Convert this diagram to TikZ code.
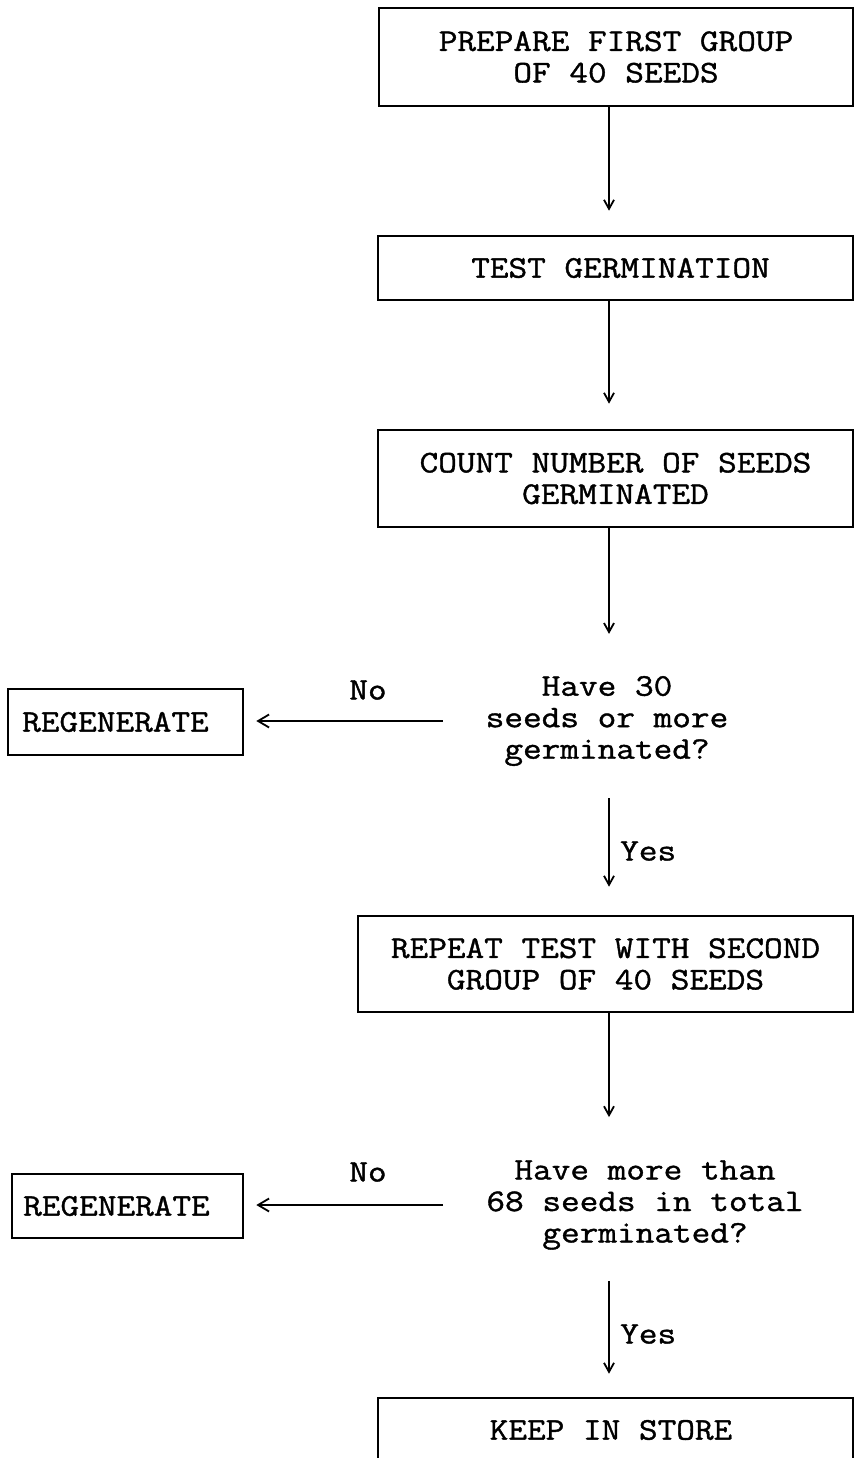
\documentclass[tikz,border=0pt]{standalone}
\usepackage{fontspec}
\newfontfamily\courlike[FakeStretch=1.15,FakeBold=1.2]{Latin Modern Mono}
\usetikzlibrary{arrows.meta}
\begin{document}
\begin{tikzpicture}[x=1pt,y=1pt,
  every node/.style={font=\fontsize{31.5}{31.5}\selectfont\courlike},
  box/.style={draw,line width=2.6pt,inner sep=0pt,align=center},
  dec/.style={inner sep=0pt,align=center},
  lbl/.style={inner sep=0pt},
  arr/.style={line width=2.2pt,-{Straight Barb[length=9pt,width=10pt,line width=1.8pt]}},
  noarr/.style={line width=2.2pt,-{Straight Barb[length=11pt,width=13pt,line width=1.8pt]}}]
\useasboundingbox (0,0) rectangle (854,-1458);
\clip (0,0) rectangle (854,-1458);
\coordinate (ax) at (609,0);
\node[box,minimum width=474pt,minimum height=98pt] (b1) at (616,-57) {PREPARE FIRST GROUP\\OF 40 SEEDS};
\node[box,minimum width=475pt,minimum height=64pt] (b2) at (615.5,-268) {\hspace*{10pt}TEST GERMINATION};
\node[box,minimum width=475pt,minimum height=97pt] (b3) at (615.5,-478.5) {COUNT NUMBER OF SEEDS\\GERMINATED};
\node[dec] (d1) at (607,-721) {Have 30\\seeds or more\\germinated?};
\node[box,minimum width=235pt,minimum height=66pt] (r1) at (125.5,-722) {REGENERATE\hspace*{20pt}};
\node[box,minimum width=495pt,minimum height=96pt] (b4) at (605.5,-964) {REPEAT TEST WITH SECOND\\GROUP OF 40 SEEDS};
\node[dec] (d2) at (645,-1205) {Have more than\\68 seeds in total\\germinated?};
\node[box,minimum width=231pt,minimum height=64pt] (r2) at (127.5,-1206) {REGENERATE\hspace*{22pt}};
\node[box,minimum width=475pt,minimum height=120pt] (b5) at (615.5,-1458) {};
\node[lbl] (t5) at (611,-1430) {KEEP IN STORE};
\node[lbl] (no1) at (368,-690) {No};
\node[lbl] (no2) at (368,-1172) {No};
\node[lbl,anchor=west] (yes1) at (620,-851) {Yes};
\node[lbl,anchor=west] (yes2) at (620,-1334) {Yes};
\draw[arr,shorten >=24pt] (b1.south -| ax) -- (b2.north -| ax);
\draw[arr,shorten >=25pt] (b2.south -| ax) -- (b3.north -| ax);
\draw[arr,shorten >=42pt] (b3.south -| ax) -- (d1.north -| ax);
\draw[arr,shorten <=32pt,shorten >=28pt] (d1.south -| ax) -- (b4.north -| ax);
\draw[arr,shorten >=43pt] (b4.south -| ax) -- (d2.north -| ax);
\draw[arr,shorten <=31pt,shorten >=23pt] (d2.south -| ax) -- (b5.north -| ax);
\draw[noarr,shorten <=43pt,shorten >=12pt] (d1.west) -- (r1.east |- d1.west);
\draw[noarr,shorten <=43pt,shorten >=12pt] (d2.west) -- (r2.east |- d2.west);
\end{tikzpicture}
\end{document}
